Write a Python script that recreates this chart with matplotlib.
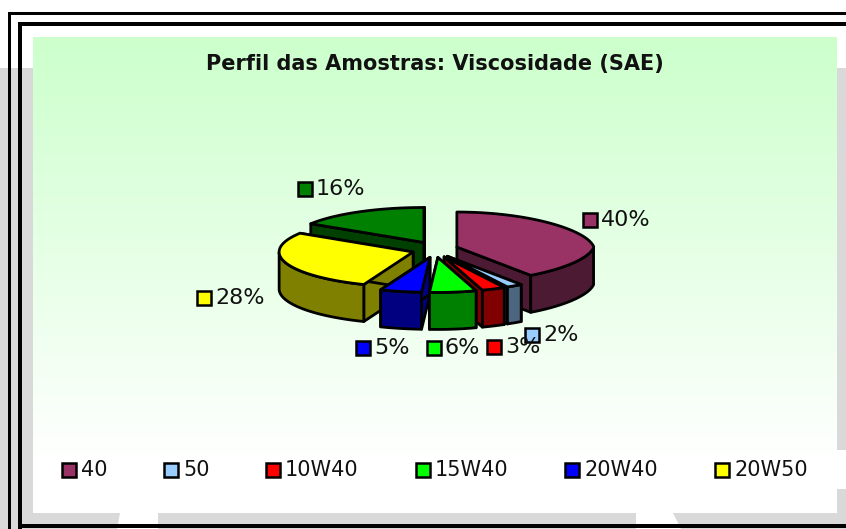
import numpy as np
import matplotlib.pyplot as plt
from matplotlib.patches import Polygon, Rectangle

# Data
values = [40, 2, 3, 6, 5, 28, 16]
value_labels = ["40%", "2%", "3%", "6%", "5%", "28%", "16%"]
top_colors = ["#993366", "#99CCFF", "#FF0000", "#00FF00", "#0000FF", "#FFFF00", "#008000"]
side_colors = ["#4D1A33", "#4D6680", "#800000", "#008000", "#000080", "#808000", "#004000"]
legend_names = ["40", "50", "10W40", "15W40", "20W40", "20W50"]
title = "Perfil das Amostras: Viscosidade (SAE)"

# Layout in pixels
W, H = 846, 529
cx, cy = 435, 249.5
a, b = 134, 35
depth = 37
explode = 23
explode_y = 8
label_pos = [(583, 220), (525, 335), (487, 347), (427, 348), (356, 348), (197, 298), (298, 189)]
legend_x = [62, 164, 266, 416, 565, 715]
legend_y = 470

fig = plt.figure(figsize=(W / 100, H / 100), dpi=100)
ax = fig.add_axes([0, 0, 1, 1])
ax.set_xlim(0, W)
ax.set_ylim(H, 0)
ax.axis("off")

# Page behind the chart
gray = "#D9D9D9"
ax.add_patch(Rectangle((0, 68), W, H - 68, color=gray, lw=0, zorder=0))
ax.add_patch(Polygon([(120, 513), (158, 513), (158, 529), (117, 529)], color="white", lw=0, zorder=0))
ax.add_patch(Polygon([(636, 513), (673, 513), (681, 529), (636, 529)], color="white", lw=0, zorder=0))

# Chart area with gradient
grad = np.ones((476, 1, 3))
t = np.clip(np.arange(476) / 425.0, 0, 1)
grad[:, 0, 0] = (204 + (255 - 204) * t) / 255
grad[:, 0, 2] = (204 + (255 - 204) * t) / 255
ax.imshow(grad, extent=(33, 837, 513, 37), aspect="auto", zorder=1, interpolation="bilinear")
ax.set_xlim(0, W)
ax.set_ylim(H, 0)
ax.add_patch(Rectangle((837, 450), 9, 39, color="white", lw=0, zorder=1))

# Double border, open on the right
ax.add_patch(Rectangle((8, 12), 3, H, color="black", lw=0, zorder=2))
ax.add_patch(Rectangle((8, 12), W, 3, color="black", lw=0, zorder=2))
ax.add_patch(Rectangle((18, 22), 4, H, color="black", lw=0, zorder=2))
ax.add_patch(Rectangle((18, 22), W, 4, color="black", lw=0, zorder=2))
ax.add_patch(Rectangle((18, 524), W, 4, color="black", lw=0, zorder=2))

ax.text(435, 64, title, fontsize=15, fontweight="bold", ha="center", va="center", color="#111111", zorder=5)


def rim(ox, oy, ang, dz=0):
    # the right front of the pie is drawn a bit narrower, like the 3D view
    rx = np.where(np.sin(ang) > 0, a + 3 - 14 * np.abs(np.cos(ang)), a)
    return np.column_stack([ox + rx * np.sin(ang), oy - b * np.cos(ang) + dz])


# Slices, clockwise from 12 o'clock
fracs = np.array(values) / sum(values)
edges = np.concatenate([[0], np.cumsum(fracs)]) * 2 * np.pi
mids = (edges[:-1] + edges[1:]) / 2
order = np.argsort(-np.cos(mids))
z = 3
for i in order:
    th0, th1 = edges[i], edges[i + 1]
    ox = cx + explode * np.sin(mids[i])
    oy = cy - explode_y * np.cos(mids[i])
    ang = np.linspace(th0, th1, 80)
    style = dict(edgecolor="black", linewidth=2, joinstyle="round")

    # radial cut faces
    for th in (th0, th1):
        p = rim(ox, oy, np.array([th]))[0]
        face = [(ox, oy), tuple(p), (p[0], p[1] + depth), (ox, oy + depth)]
        ax.add_patch(Polygon(face, facecolor=side_colors[i], zorder=z, **style))
    # outer wall, front half only
    front = ang[(ang > np.pi / 2) & (ang < 3 * np.pi / 2)]
    if len(front) > 1:
        wall = np.vstack([rim(ox, oy, front), rim(ox, oy, front[::-1], depth)])
        ax.add_patch(Polygon(wall, facecolor=side_colors[i], zorder=z, **style))
    # top
    top = np.vstack([[(ox, oy)], rim(ox, oy, ang)])
    ax.add_patch(Polygon(top, facecolor=top_colors[i], zorder=z, **style))
    z += 1

# Data labels with colour key
for i, (x, y) in enumerate(label_pos):
    ax.add_patch(Rectangle((x, y - 7), 14, 14, facecolor=top_colors[i], edgecolor="black", lw=1.8, zorder=20))
    ax.text(x + 18, y, value_labels[i], fontsize=16, ha="left", va="center", color="#111111", zorder=21)

# Legend
for i, name in enumerate(legend_names):
    ax.add_patch(Rectangle((legend_x[i], legend_y - 7), 14, 14, facecolor=top_colors[i], edgecolor="black", lw=1.8, zorder=20))
    ax.text(legend_x[i] + 19, legend_y, name, fontsize=15, ha="left", va="center", color="#111111", zorder=21)

fig.savefig("out.png", dpi=100)
